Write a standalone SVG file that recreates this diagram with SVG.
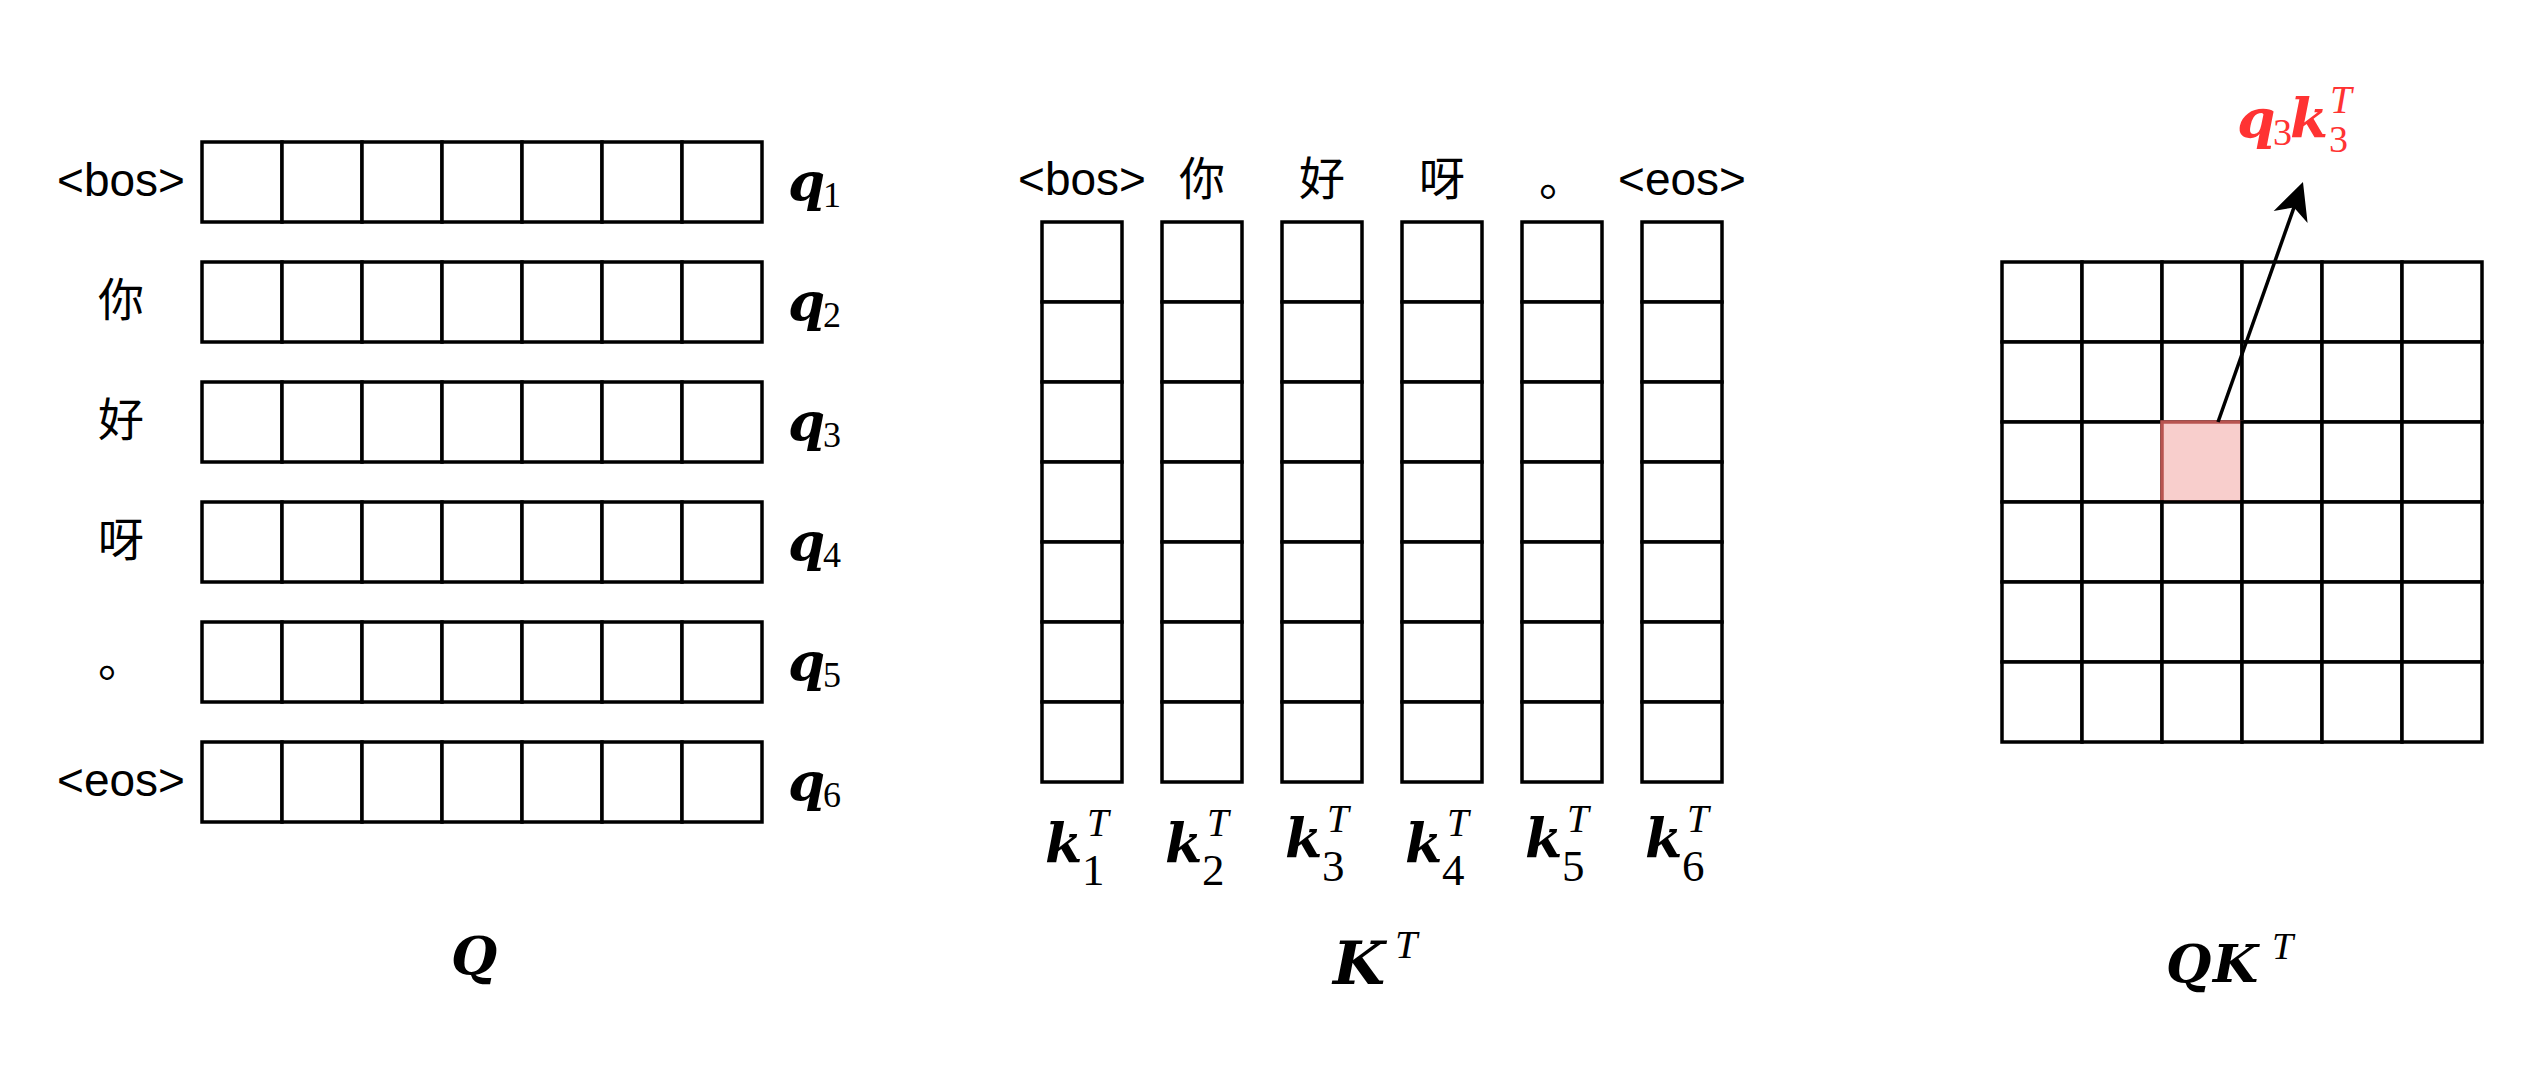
<svg xmlns="http://www.w3.org/2000/svg" width="2524" height="1080" viewBox="0 0 2524 1080">
<style>
.c{fill:#fff;stroke:#000;stroke-width:3.5}
.hl{fill:#f8cecc;stroke:#b85450;stroke-width:3.5}
.tok{font-family:"Liberation Sans","Noto Sans CJK SC",sans-serif;font-size:46px;fill:#000;text-anchor:middle}
.mb{font-family:"DejaVu Serif",serif;font-weight:bold;font-style:italic;fill:#000}
.sub{font-family:"Liberation Serif",serif;fill:#000}
.sup{font-family:"Liberation Serif",serif;font-style:italic;fill:#000}
.red{fill:#ff3333}
</style>
<defs>
<g id="qrow">
<rect class="c" x="0" y="0" width="80" height="80"/>
<rect class="c" x="80" y="0" width="80" height="80"/>
<rect class="c" x="160" y="0" width="80" height="80"/>
<rect class="c" x="240" y="0" width="80" height="80"/>
<rect class="c" x="320" y="0" width="80" height="80"/>
<rect class="c" x="400" y="0" width="80" height="80"/>
<rect class="c" x="480" y="0" width="80" height="80"/>
</g>
<g id="kcol">
<rect class="c" x="0" y="0" width="80" height="80"/>
<rect class="c" x="0" y="80" width="80" height="80"/>
<rect class="c" x="0" y="160" width="80" height="80"/>
<rect class="c" x="0" y="240" width="80" height="80"/>
<rect class="c" x="0" y="320" width="80" height="80"/>
<rect class="c" x="0" y="400" width="80" height="80"/>
<rect class="c" x="0" y="480" width="80" height="80"/>
</g>
<g id="grow">
<rect class="c" x="0" y="0" width="80" height="80"/>
<rect class="c" x="80" y="0" width="80" height="80"/>
<rect class="c" x="160" y="0" width="80" height="80"/>
<rect class="c" x="240" y="0" width="80" height="80"/>
<rect class="c" x="320" y="0" width="80" height="80"/>
<rect class="c" x="400" y="0" width="80" height="80"/>
</g>
<marker id="arr" viewBox="-40 -20 40 40" markerWidth="40" markerHeight="40" refX="-20" refY="0" orient="auto" markerUnits="userSpaceOnUse">
<path d="M0,0 L-37,-18 L-27,0 L-37,18 Z" fill="#000"/>
</marker>
</defs>
<rect x="0" y="0" width="2524" height="1080" fill="#fff"/>

<g id="Q">
<g id="q1"><use href="#qrow" x="202" y="142"/><text class="tok" x="121" y="196">&lt;bos&gt;</text><text class="mb" font-size="53" x="788" y="200">q</text><text class="sub" font-size="36" x="823" y="207">1</text></g>
<g id="q2"><use href="#qrow" x="202" y="262"/><text class="tok" x="121" y="316">你</text><text class="mb" font-size="53" x="788" y="320">q</text><text class="sub" font-size="36" x="823" y="327">2</text></g>
<g id="q3"><use href="#qrow" x="202" y="382"/><text class="tok" x="121" y="436">好</text><text class="mb" font-size="53" x="788" y="440">q</text><text class="sub" font-size="36" x="823" y="447">3</text></g>
<g id="q4"><use href="#qrow" x="202" y="502"/><text class="tok" x="121" y="556">呀</text><text class="mb" font-size="53" x="788" y="560">q</text><text class="sub" font-size="36" x="823" y="567">4</text></g>
<g id="q5"><use href="#qrow" x="202" y="622"/><text class="tok" x="121" y="676">。</text><text class="mb" font-size="53" x="788" y="680">q</text><text class="sub" font-size="36" x="823" y="687">5</text></g>
<g id="q6"><use href="#qrow" x="202" y="742"/><text class="tok" x="121" y="796">&lt;eos&gt;</text><text class="mb" font-size="53" x="788" y="800">q</text><text class="sub" font-size="36" x="823" y="807">6</text></g>
<g id="Qlabel"><text class="mb" font-size="53" x="451" y="974">Q</text></g>
</g>

<g id="KT">
<g id="k1"><use href="#kcol" x="1042" y="222"/><text class="tok" x="1082" y="195">&lt;bos&gt;</text><text class="mb" font-size="54" x="1045" y="862">k</text><text class="sup" font-size="39" x="1087" y="836">T</text><text class="sub" font-size="45" x="1082" y="885">1</text></g>
<g id="k2"><use href="#kcol" x="1162" y="222"/><text class="tok" x="1202" y="195">你</text><text class="mb" font-size="54" x="1165" y="862">k</text><text class="sup" font-size="39" x="1207" y="836">T</text><text class="sub" font-size="45" x="1202" y="885">2</text></g>
<g id="k3"><use href="#kcol" x="1282" y="222"/><text class="tok" x="1322" y="195">好</text><text class="mb" font-size="54" x="1285" y="857">k</text><text class="sup" font-size="39" x="1327" y="832">T</text><text class="sub" font-size="45" x="1322" y="881">3</text></g>
<g id="k4"><use href="#kcol" x="1402" y="222"/><text class="tok" x="1442" y="195">呀</text><text class="mb" font-size="54" x="1405" y="862">k</text><text class="sup" font-size="39" x="1447" y="836">T</text><text class="sub" font-size="45" x="1442" y="885">4</text></g>
<g id="k5"><use href="#kcol" x="1522" y="222"/><text class="tok" x="1562" y="195">。</text><text class="mb" font-size="54" x="1525" y="857">k</text><text class="sup" font-size="39" x="1567" y="832">T</text><text class="sub" font-size="45" x="1562" y="881">5</text></g>
<g id="k6"><use href="#kcol" x="1642" y="222"/><text class="tok" x="1682" y="195">&lt;eos&gt;</text><text class="mb" font-size="54" x="1645" y="857">k</text><text class="sup" font-size="39" x="1687" y="832">T</text><text class="sub" font-size="45" x="1682" y="881">6</text></g>
<g id="KTlabel"><text class="mb" font-size="60" x="1333" y="984">K</text><text class="sup" font-size="40" x="1395" y="958">T</text></g>
</g>

<g id="QKT">
<use href="#grow" x="2002" y="262"/>
<use href="#grow" x="2002" y="342"/>
<g>
<rect class="c" x="2002" y="422" width="80" height="80"/>
<rect class="c" x="2082" y="422" width="80" height="80"/>
<rect class="hl" id="cell33" x="2162" y="422" width="80" height="80"/>
<rect class="c" x="2242" y="422" width="80" height="80"/>
<rect class="c" x="2322" y="422" width="80" height="80"/>
<rect class="c" x="2402" y="422" width="80" height="80"/>
</g>
<use href="#grow" x="2002" y="502"/>
<use href="#grow" x="2002" y="582"/>
<use href="#grow" x="2002" y="662"/>
<g id="QKTlabel"><text class="mb" font-size="52" x="2166" y="982">Q</text><text class="mb" font-size="52" x="2213" y="982">K</text><text class="sup" font-size="38" x="2272" y="959">T</text></g>
</g>

<g id="result-label">
<text class="mb red" font-size="55" x="2237" y="138">q</text>
<text class="sub red" font-size="38" x="2273" y="145">3</text>
<text class="mb red" font-size="55" x="2290" y="137">k</text>
<text class="sup red" font-size="39" x="2330" y="113">T</text>
<text class="sub red" font-size="38" x="2329" y="152">3</text>
</g>

<g id="connectors">
<line x1="2218" y1="422" x2="2296.3" y2="200.9" stroke="#000" stroke-width="3.5" marker-end="url(#arr)"/>
</g>
</svg>
